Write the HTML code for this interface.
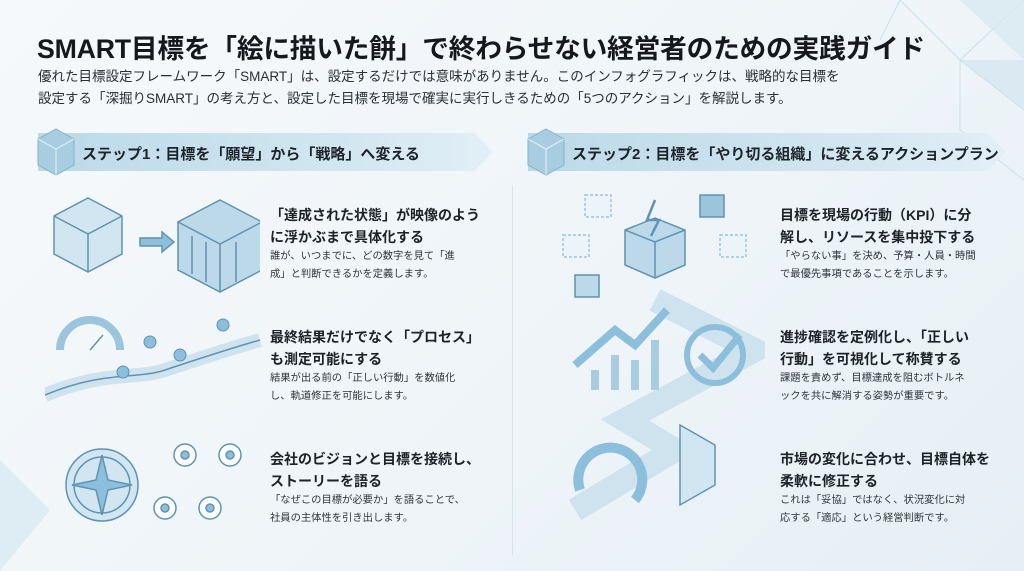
<!DOCTYPE html>
<html><head><meta charset="utf-8"><style>
*{margin:0;padding:0;box-sizing:border-box}
body{width:1024px;height:571px;overflow:hidden;background:linear-gradient(135deg,#f6f9fb 0%,#eef4f8 60%,#e6eff5 100%);font-family:"Liberation Sans","Noto Sans CJK JP",sans-serif;color:#1e2328;position:relative}
.a{position:absolute}
h1{position:absolute;left:37px;top:27px;font-size:26.7px;font-weight:bold;letter-spacing:-0.2px;white-space:nowrap;color:#15191d}
.sub{left:38px;top:66px;font-size:13.5px;line-height:22px;color:#2a2f35;white-space:nowrap}
.ban{height:38px;top:133px;background:linear-gradient(90deg,#bcd9e8,#d3e7f1 70%,#e2eff6);clip-path:polygon(0 0,96% 0,100% 50%,96% 100%,0 100%)}
.bt{font-size:15px;font-weight:bold;white-space:nowrap;color:#1c232a}
.t{font-size:14px;font-weight:bold;line-height:22px;white-space:nowrap;color:#1c2227}
.d{font-size:10.3px;line-height:18px;white-space:nowrap;color:#2e343a}
svg{position:absolute}
</style></head><body>
<svg style="left:860px;top:0" width="164" height="200" viewBox="0 0 164 200"><g fill="none" stroke="#c9dfea" stroke-width="1"><path d="M40 0L100 60L164 0M100 60L100 130L164 180M100 60L164 110M40 0L20 40"/></g><path d="M100 0L164 0L164 60Z" fill="#d6e8f1" opacity=".7"/><path d="M100 60L164 110L164 60Z" fill="#cfe3ee" opacity=".6"/></svg>
<svg style="left:0;top:440px" width="60" height="131"><path d="M0 20L50 70L0 131Z" fill="#d6e8f1" opacity=".7"/></svg>
<h1>SMART目標を「絵に描いた餅」で終わらせない経営者のための実践ガイド</h1>
<div class="a sub">優れた目標設定フレームワーク「SMART」は、設定するだけでは意味がありません。このインフォグラフィックは、戦略的な目標を<br>設定する「深掘りSMART」の考え方と、設定した目標を現場で確実に実行しきるための「5つのアクション」を解説します。</div>

<div class="a ban" style="left:38px;width:455px"></div>
<svg style="left:36px;top:127px" width="40" height="50"><path d="M20 2L38 12L38 38L20 48L2 38L2 12Z" fill="#a9cde0" stroke="#7fb2cc"/><path d="M2 12L20 22L38 12M20 22L20 48" stroke="#eaf4f9" fill="none"/></svg>
<div class="a bt" style="left:82px;top:143px">ステップ1：目標を「願望」から「戦略」へ変える</div>
<div class="a ban" style="left:528px;width:478px"></div>
<svg style="left:526px;top:127px" width="40" height="50"><path d="M20 2L38 12L38 38L20 48L2 38L2 12Z" fill="#a9cde0" stroke="#7fb2cc"/><path d="M2 12L20 22L38 12M20 22L20 48" stroke="#eaf4f9" fill="none"/></svg>
<div class="a bt" style="left:572px;top:143px">ステップ2：目標を「やり切る組織」に変えるアクションプラン</div>

<div class="a" style="left:512px;top:185px;width:1px;height:370px;background:#d8e4ec"></div>

<svg style="left:40px;top:190px" width="220" height="110"><g stroke="#5f93b3" stroke-width="1.5" fill="#d2e6f1"><path d="M48 8L82 26L82 64L48 82L14 64L14 26Z"/><path d="M14 26L48 44L82 26M48 44L48 82" fill="none"/><path d="M100 48L122 48L122 42L134 52L122 62L122 56L100 56Z" fill="#8cbfdc"/><path d="M180 10L222 32L222 80L180 102L138 80L138 32Z" fill="#bcd9e9"/><path d="M138 32L180 54L222 32M180 54L180 102M152 46L152 84M166 52L166 92M196 52L196 92" fill="none"/></g></svg>
<svg style="left:45px;top:300px" width="220" height="110"><g stroke="#5f93b3" stroke-width="1.5" fill="none"><path d="M15 50A30 30 0 0 1 75 50" stroke-width="8" stroke="#9cc5dd"/><path d="M45 50L58 35"/><path d="M0 95C60 70 90 80 120 70S180 50 215 40" stroke-width="14" stroke="#cfe3ee"/><path d="M0 95C60 70 90 80 120 70S180 50 215 40"/></g><g fill="#8cbfdc" stroke="#5f93b3"><circle cx="105" cy="42" r="6"/><circle cx="135" cy="55" r="6"/><circle cx="178" cy="25" r="6"/><circle cx="78" cy="72" r="6"/></g></svg>
<svg style="left:60px;top:430px" width="200" height="110"><g stroke="#5f93b3" stroke-width="1.5"><circle cx="42" cy="55" r="36" fill="#d2e6f1"/><circle cx="42" cy="55" r="28" fill="none"/><path d="M42 25L48 50L72 55L48 60L42 85L36 60L12 55L36 50Z" fill="#8cbfdc"/><g fill="#fff"><circle cx="125" cy="25" r="11"/><circle cx="170" cy="25" r="11"/><circle cx="105" cy="78" r="11"/><circle cx="150" cy="78" r="11"/></g><g fill="#8cbfdc"><circle cx="125" cy="25" r="4"/><circle cx="170" cy="25" r="4"/><circle cx="105" cy="78" r="4"/><circle cx="150" cy="78" r="4"/></g></g></svg>

<svg style="left:555px;top:190px" width="210" height="350"><g stroke="#5f93b3" stroke-width="1.5"><path d="M100 110L200 160L70 230L120 260L20 320" fill="none" stroke="#cfe3ee" stroke-width="24"/><path d="M70 40L100 28L130 40L130 75L100 88L70 75Z" fill="#bcd9e9"/><path d="M70 40L100 52L130 40M100 52L100 88" fill="none"/><path d="M100 10L92 30L104 30L96 46" fill="none" stroke-width="2.5"/><g fill="#eaf4f9" stroke="#9cc5dd" stroke-dasharray="3 2"><rect x="30" y="5" width="26" height="22"/><rect x="8" y="45" width="26" height="22"/><rect x="165" y="45" width="26" height="22"/></g><rect x="145" y="5" width="24" height="22" fill="#9cc5dd"/><rect x="20" y="85" width="24" height="22" fill="#bcd9e9"/><path d="M20 175L60 140L80 155L112 120" fill="none" stroke="#8cbfdc" stroke-width="8"/><path d="M40 200L40 180M60 200L60 165M80 200L80 170M100 200L100 150" stroke="#a9cde0" stroke-width="8"/><circle cx="160" cy="165" r="28" fill="none" stroke="#8cbfdc" stroke-width="6"/><path d="M145 165L158 178L185 145" fill="none" stroke="#8cbfdc" stroke-width="7"/><path d="M25 300A32 32 0 1 1 80 310" fill="none" stroke="#8cbfdc" stroke-width="10"/><path d="M125 235L160 255L160 295L125 315Z" fill="#d2e6f1"/></g></svg>

<div class="a t" style="left:270px;top:204px">「達成された状態」が映像のよう<br>に浮かぶまで具体化する</div>
<div class="a d" style="left:270px;top:248px">誰が、いつまでに、どの数字を見て「進<br>成」と判断できるかを定義します。</div>
<div class="a t" style="left:270px;top:326px">最終結果だけでなく「プロセス」<br>も測定可能にする</div>
<div class="a d" style="left:270px;top:370px">結果が出る前の「正しい行動」を数値化<br>し、軌道修正を可能にします。</div>
<div class="a t" style="left:270px;top:448px">会社のビジョンと目標を接続し、<br>ストーリーを語る</div>
<div class="a d" style="left:270px;top:492px">「なぜこの目標が必要か」を語ることで、<br>社員の主体性を引き出します。</div>

<div class="a t" style="left:780px;top:204px">目標を現場の行動（KPI）に分<br>解し、リソースを集中投下する</div>
<div class="a d" style="left:780px;top:248px">「やらない事」を決め、予算・人員・時間<br>で最優先事項であることを示します。</div>
<div class="a t" style="left:780px;top:326px">進捗確認を定例化し、「正しい<br>行動」を可視化して称賛する</div>
<div class="a d" style="left:780px;top:370px">課題を責めず、目標達成を阻むボトルネ<br>ックを共に解消する姿勢が重要です。</div>
<div class="a t" style="left:780px;top:448px">市場の変化に合わせ、目標自体を<br>柔軟に修正する</div>
<div class="a d" style="left:780px;top:492px">これは「妥協」ではなく、状況変化に対<br>応する「適応」という経営判断です。</div>
</body></html>
